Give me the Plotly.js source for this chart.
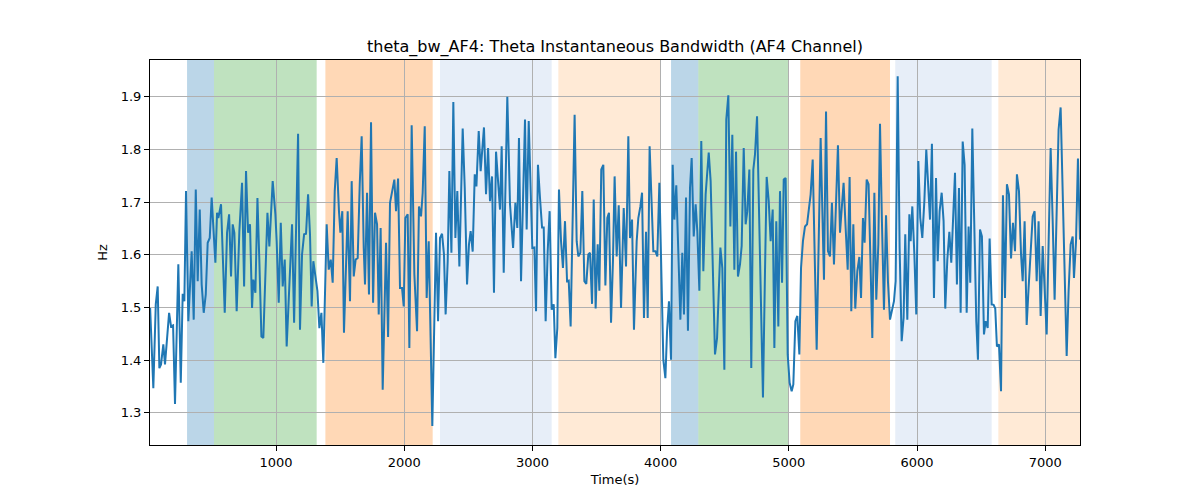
<!DOCTYPE html>
<html>
<head>
<meta charset="utf-8">
<script src="https://cdn.plot.ly/plotly-3.0.1.min.js"></script>
<style>
  html, body { margin: 0; padding: 0; background: #fff; }
  #chart { width: 1200px; height: 500px; }
</style>
</head>
<body>
<div id="chart"></div>
<script>
// time axis (seconds) and theta bandwidth (Hz)
const timeSec = [
  18, 43, 62, 77, 90, 103, 121, 134, 166, 181, 197, 212, 238, 257, 272, 285, 298, 316, 342, 358,
  374, 389, 405, 420, 436, 452, 467, 483, 498, 514, 527, 540, 550, 571, 600, 618, 634, 649, 662, 675,
  693, 714, 735, 751, 766, 782, 797, 813, 823, 839, 855, 870, 886, 901, 917, 933, 948, 974, 995, 1005,
  1021, 1037, 1052, 1068, 1083, 1104, 1125, 1141, 1172, 1187, 1203, 1219, 1234, 1250, 1265, 1278, 1291, 1323, 1338, 1354,
  1369, 1395, 1411, 1427, 1442, 1458, 1473, 1491, 1502, 1517, 1530, 1559, 1577, 1590, 1606, 1621, 1637, 1653, 1668, 1684,
  1694, 1710, 1725, 1741, 1757, 1772, 1788, 1801, 1816, 1832, 1858, 1874, 1889, 1923, 1936, 1952, 1967, 1983, 1996, 2009,
  2027, 2040, 2058, 2079, 2100, 2115, 2131, 2144, 2160, 2175, 2191, 2219, 2248, 2264, 2279, 2295, 2310, 2323, 2339, 2352,
  2368, 2383, 2399, 2414, 2430, 2456, 2472, 2490, 2505, 2518, 2534, 2550, 2563, 2581, 2596, 2622, 2638, 2654, 2669, 2685,
  2700, 2716, 2732, 2747, 2760, 2776, 2804, 2825, 2849, 2867, 2882, 2895, 2911, 2927, 2942, 2955, 2971, 2999, 3015, 3028,
  3043, 3059, 3075, 3088, 3103, 3119, 3134, 3150, 3166, 3179, 3194, 3207, 3223, 3238, 3254, 3270, 3283, 3298, 3329, 3345,
  3358, 3374, 3389, 3405, 3420, 3436, 3449, 3465, 3478, 3493, 3509, 3522, 3537, 3553, 3569, 3584, 3597, 3613, 3628, 3641,
  3657, 3673, 3691, 3712, 3730, 3748, 3761, 3777, 3792, 3813, 3826, 3842, 3855, 3870, 3886, 3899, 3914, 3930, 3943, 3959,
  3974, 3990, 4005, 4021, 4037, 4050, 4065, 4081, 4094, 4107, 4122, 4138, 4154, 4169, 4182, 4198, 4213, 4229, 4242, 4258,
  4273, 4286, 4302, 4317, 4333, 4351, 4375, 4390, 4408, 4424, 4440, 4466, 4481, 4497, 4512, 4528, 4544, 4559, 4575, 4588,
  4603, 4619, 4632, 4648, 4663, 4676, 4692, 4707, 4723, 4736, 4752, 4767, 4783, 4798, 4814, 4827, 4843, 4858, 4874, 4887,
  4902, 4918, 4931, 4947, 4960, 4975, 4991, 5006, 5022, 5035, 5051, 5066, 5082, 5095, 5110, 5126, 5142, 5155, 5170, 5186,
  5217, 5248, 5274, 5290, 5305, 5321, 5336, 5352, 5383, 5399, 5414, 5427, 5443, 5459, 5474, 5487, 5503, 5518, 5534, 5550,
  5563, 5578, 5591, 5607, 5622, 5635, 5651, 5667, 5682, 5698, 5711, 5726, 5742, 5758, 5773, 5789, 5804, 5820, 5833, 5849,
  5864, 5880, 5895, 5908, 5924, 5940, 5950, 5963, 5979, 5994, 6010, 6025, 6041, 6057, 6072, 6088, 6101, 6116, 6132, 6148,
  6161, 6176, 6192, 6207, 6220, 6236, 6252, 6267, 6283, 6296, 6311, 6327, 6340, 6356, 6371, 6387, 6402, 6415, 6431, 6447,
  6462, 6475, 6491, 6506, 6522, 6535, 6551, 6566, 6582, 6597, 6610, 6623, 6639, 6655, 6670, 6686, 6701, 6717, 6733, 6748,
  6764, 6779, 6795, 6811, 6824, 6839, 6855, 6870, 6886, 6902, 6917, 6933, 6948, 6964, 6980, 6995, 7011, 7026, 7042, 7058,
  7073, 7089, 7104, 7120, 7136, 7151, 7167, 7182, 7198, 7214, 7224, 7240, 7255, 7271
];
const thetaBw = [
  1.499, 1.347, 1.506, 1.540, 1.385, 1.392, 1.430, 1.392, 1.490, 1.464, 1.466, 1.317, 1.582, 1.357, 1.526, 1.512, 1.721, 1.474, 1.607, 1.477,
  1.724, 1.550, 1.686, 1.544, 1.490, 1.525, 1.623, 1.632, 1.709, 1.651, 1.585, 1.680, 1.670, 1.696, 1.490, 1.642, 1.677, 1.559, 1.658, 1.642,
  1.493, 1.645, 1.737, 1.540, 1.759, 1.642, 1.658, 1.499, 1.553, 1.528, 1.708, 1.588, 1.445, 1.442, 1.569, 1.680, 1.616, 1.740, 1.677, 1.626,
  1.509, 1.661, 1.540, 1.591, 1.426, 1.537, 1.658, 1.471, 1.830, 1.458, 1.601, 1.639, 1.640, 1.715, 1.639, 1.502, 1.588, 1.531, 1.461, 1.490,
  1.395, 1.658, 1.572, 1.591, 1.547, 1.721, 1.784, 1.683, 1.642, 1.683, 1.452, 1.683, 1.512, 1.740, 1.559, 1.591, 1.594, 1.734, 1.825, 1.613,
  1.544, 1.718, 1.525, 1.852, 1.509, 1.680, 1.658, 1.487, 1.651, 1.344, 1.623, 1.444, 1.699, 1.743, 1.683, 1.745, 1.537, 1.537, 1.502, 1.670,
  1.677, 1.423, 1.846, 1.563, 1.455, 1.692, 1.673, 1.718, 1.844, 1.518, 1.626, 1.275, 1.642, 1.474, 1.632, 1.640, 1.601, 1.487, 1.588, 1.759,
  1.604, 1.890, 1.632, 1.721, 1.578, 1.840, 1.727, 1.544, 1.620, 1.645, 1.606, 1.753, 1.730, 1.835, 1.759, 1.842, 1.715, 1.803, 1.702, 1.749,
  1.528, 1.796, 1.746, 1.686, 1.806, 1.566, 1.900, 1.696, 1.613, 1.699, 1.651, 1.822, 1.550, 1.721, 1.857, 1.648, 1.854, 1.613, 1.614, 1.493,
  1.771, 1.708, 1.652, 1.652, 1.474, 1.607, 1.683, 1.496, 1.506, 1.404, 1.461, 1.724, 1.626, 1.575, 1.664, 1.550, 1.551, 1.464, 1.866, 1.626,
  1.597, 1.604, 1.721, 1.550, 1.545, 1.601, 1.604, 1.507, 1.705, 1.498, 1.620, 1.532, 1.762, 1.771, 1.542, 1.670, 1.680, 1.471, 1.588, 1.749,
  1.597, 1.694, 1.499, 1.689, 1.578, 1.825, 1.632, 1.667, 1.458, 1.626, 1.670, 1.692, 1.718, 1.480, 1.644, 1.480, 1.806, 1.696, 1.607, 1.607,
  1.597, 1.737, 1.588, 1.401, 1.366, 1.455, 1.512, 1.401, 1.771, 1.667, 1.732, 1.582, 1.477, 1.604, 1.487, 1.709, 1.456, 1.727, 1.784, 1.635,
  1.696, 1.645, 1.532, 1.816, 1.569, 1.715, 1.794, 1.740, 1.588, 1.411, 1.442, 1.614, 1.575, 1.382, 1.857, 1.903, 1.654, 1.828, 1.572, 1.796,
  1.559, 1.582, 1.617, 1.803, 1.658, 1.683, 1.762, 1.385, 1.762, 1.791, 1.863, 1.696, 1.499, 1.329, 1.569, 1.748, 1.702, 1.626, 1.686, 1.423,
  1.664, 1.464, 1.721, 1.547, 1.743, 1.746, 1.411, 1.357, 1.341, 1.354, 1.474, 1.484, 1.411, 1.575, 1.626, 1.654, 1.658, 1.683, 1.715, 1.781,
  1.420, 1.822, 1.553, 1.872, 1.607, 1.597, 1.699, 1.582, 1.808, 1.642, 1.689, 1.737, 1.651, 1.572, 1.748, 1.493, 1.658, 1.498, 1.569, 1.596,
  1.518, 1.670, 1.623, 1.743, 1.734, 1.601, 1.442, 1.718, 1.515, 1.620, 1.849, 1.664, 1.496, 1.675, 1.550, 1.477, 1.493, 1.512, 1.550, 1.939,
  1.613, 1.436, 1.480, 1.639, 1.477, 1.677, 1.626, 1.692, 1.601, 1.487, 1.778, 1.670, 1.632, 1.702, 1.800, 1.715, 1.667, 1.811, 1.518, 1.746,
  1.588, 1.683, 1.718, 1.664, 1.498, 1.591, 1.644, 1.585, 1.683, 1.756, 1.544, 1.727, 1.490, 1.815, 1.771, 1.490, 1.654, 1.547, 1.840, 1.651,
  1.474, 1.401, 1.648, 1.635, 1.449, 1.474, 1.461, 1.631, 1.506, 1.505, 1.498, 1.426, 1.430, 1.341, 1.713, 1.518, 1.734, 1.715, 1.593, 1.661,
  1.607, 1.753, 1.721, 1.601, 1.550, 1.664, 1.467, 1.537, 1.607, 1.673, 1.683, 1.550, 1.664, 1.484, 1.617, 1.537, 1.449, 1.620, 1.803, 1.664,
  1.515, 1.683, 1.838, 1.880, 1.727, 1.537, 1.408, 1.531, 1.620, 1.635, 1.556, 1.626, 1.783, 1.629
];

// shaded segments (start, end in seconds) and which kind of segment each one is
const spanStart = [306, 516, 1385, 2279, 3202, 4081, 4294, 5089, 5830, 6634];
const spanEnd   = [516, 1317, 2222, 3150, 4000, 4294, 5001, 5789, 6582, 7271];
const spanKind  = ['A', 'B', 'C', 'D', 'E', 'A', 'B', 'C', 'D', 'E'];

const xTicks = [1000, 2000, 3000, 4000, 5000, 6000, 7000];
const yTicks = [1.3, 1.4, 1.5, 1.6, 1.7, 1.8, 1.9];

const kindColor = {
    A: 'rgba(31,119,180,0.3)',
    B: 'rgba(44,160,44,0.3)',
    C: 'rgba(255,127,14,0.3)',
    D: 'rgba(174,199,232,0.3)',
    E: 'rgba(255,187,120,0.3)'
};

const shapes = spanStart.map((s, i) => ({
    type: 'rect',
    xref: 'x',
    yref: 'paper',
    x0: s,
    x1: spanEnd[i],
    y0: 0,
    y1: 1,
    fillcolor: kindColor[spanKind[i]],
    line: { width: 0 },
    layer: 'below'
}));

const trace = {
    x: timeSec,
    y: thetaBw,
    type: 'scatter',
    mode: 'lines',
    line: { color: '#1f77b4', width: 2 },
    showlegend: false,
    hoverinfo: 'x+y'
};

const fontFamily = 'DejaVu Sans, sans-serif';

const layout = {
    width: 1200,
    height: 500,
    margin: { l: 150, r: 120, t: 60, b: 55 },
    paper_bgcolor: '#fff',
    plot_bgcolor: '#fff',
    title: {
        text: 'theta_bw_AF4: Theta Instantaneous Bandwidth (AF4 Channel)',
        font: { family: fontFamily, size: 16, color: '#000' },
        x: 0.5,
        xref: 'paper',
        xanchor: 'center',
        y: 1 - 46 / 500,
        yanchor: 'middle'
    },
    xaxis: {
        range: [17, 7271],
        tickmode: 'array',
        tickvals: xTicks,
        ticktext: xTicks.map(String),
        ticks: 'outside',
        ticklen: 5,
        tickcolor: '#000',
        showline: true,
        linecolor: '#000',
        linewidth: 1,
        mirror: true,
        showgrid: true,
        gridcolor: '#b0b0b0',
        gridwidth: 1,
        zeroline: false,
        tickfont: { family: fontFamily, size: 13, color: '#000' },
        title: {
            text: 'Time(s)',
            font: { family: fontFamily, size: 13, color: '#000' },
            standoff: 6
        }
    },
    yaxis: {
        range: [1.239, 1.970],
        tickmode: 'array',
        tickvals: yTicks,
        ticktext: yTicks.map(v => v.toFixed(1)),
        ticks: 'outside',
        ticklen: 5,
        tickcolor: '#000',
        showline: true,
        linecolor: '#000',
        linewidth: 1,
        mirror: true,
        showgrid: true,
        gridcolor: '#b0b0b0',
        gridwidth: 1,
        zeroline: false,
        tickfont: { family: fontFamily, size: 13, color: '#000' },
        title: {
            text: 'Hz',
            font: { family: fontFamily, size: 13, color: '#000' },
            standoff: 10
        }
    },
    shapes: shapes
};

Plotly.newPlot('chart', [trace], layout, { displayModeBar: false, responsive: false });
</script>
</body>
</html>
